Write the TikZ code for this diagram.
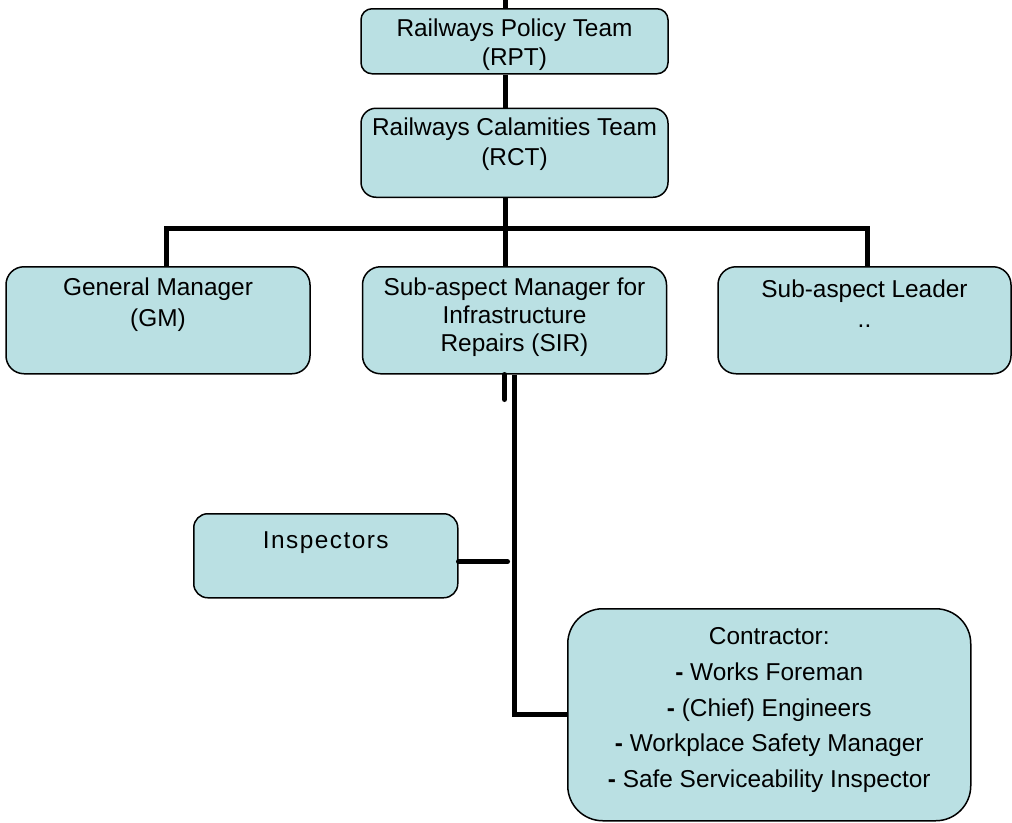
\documentclass[tikz,border=0pt]{standalone}
\usepackage{fontspec}
\setmainfont{Liberation Sans}
\usetikzlibrary{positioning}
\definecolor{boxfill}{RGB}{186,224,227}

\begin{document}
\begin{tikzpicture}[x=1pt,y=1pt,
            node distance = 33pt,
            box/.style = {draw,line width=1.5pt,fill=boxfill,align=center,
                inner xsep=0pt,inner ysep=0pt,
                font=\fontsize{24.4}{29}\selectfont},
            conn/.style = {line width=5pt}]
            \useasboundingbox (0,0) rectangle (1012,-822);
            \node[box,anchor=north,minimum width=307pt,rounded corners=11pt,
                text height=57pt,text depth=8pt] (rpt) at (514.5,-8)
                {Railways Policy Team\\(RPT)};
            \node[box,below=of rpt,minimum width=307pt,rounded corners=15pt,
                text height=57pt,text depth=32pt,
                font=\fontsize{24.4}{30}\selectfont] (rct)
                {Railways Calamities Team\\(RCT)};
            \node[box,below=68pt of rct,minimum width=304pt,rounded corners=18pt,
                text height=85pt,text depth=22pt,
                font=\fontsize{24.4}{28}\selectfont] (sir)
                {Sub-aspect Manager for\\Infrastructure\\Repairs (SIR)};
            \node[box,left=51pt of sir,minimum width=304pt,rounded corners=18pt,
                text height=60pt,text depth=47pt,
                font=\fontsize{24.4}{31}\selectfont] (gm)
                {General Manager\\(GM)};
            \node[box,right=50pt of sir,minimum width=293pt,rounded corners=18pt,
                text height=61pt,text depth=46pt,
                font=\fontsize{24.4}{30}\selectfont] (lead)
                {Sub-aspect Leader\\..};
            \node[box,anchor=north west,minimum width=264pt,rounded corners=14pt,
                text height=35pt,text depth=49pt] (insp) at (193,-513)
                {\addfontfeature{LetterSpace=6}Inspectors};
            \node[box,anchor=north west,minimum width=403pt,rounded corners=35pt,
                text height=179pt,text depth=33pt,
                font=\fontsize{24.4}{35.8}\selectfont] (con) at (567,-608)
                {Contractor:\\\textbf{-} Works Foreman\\\textbf{-} (Chief) Engineers\\
                \textbf{-} Workplace Safety Manager\\\textbf{-} Safe Serviceability Inspector};
            \draw[conn] ([xshift=-9.5pt]rpt.north) -- ++(0,8pt);
            \draw[conn] ([xshift=-9.5pt]rpt.south) -- ([xshift=-9.5pt]rct.north);
            \draw[conn] ([xshift=-9.5pt]rct.south) -- ([xshift=-9.5pt]sir.north);
            \draw[conn] ([xshift=8pt]gm.north) -- ++(0,38pt) -| ([xshift=3pt]lead.north);
            \draw[conn,line cap=round] ([xshift=-10pt]sir.south) -- ++(0,-25pt);
            \draw[conn] ([xshift=-0.5pt]sir.south) |- (con.west);
            \draw[conn,line cap=round] ([yshift=-6pt]insp.east) -- ++(49pt,0);
        \end{tikzpicture}
\end{document}
